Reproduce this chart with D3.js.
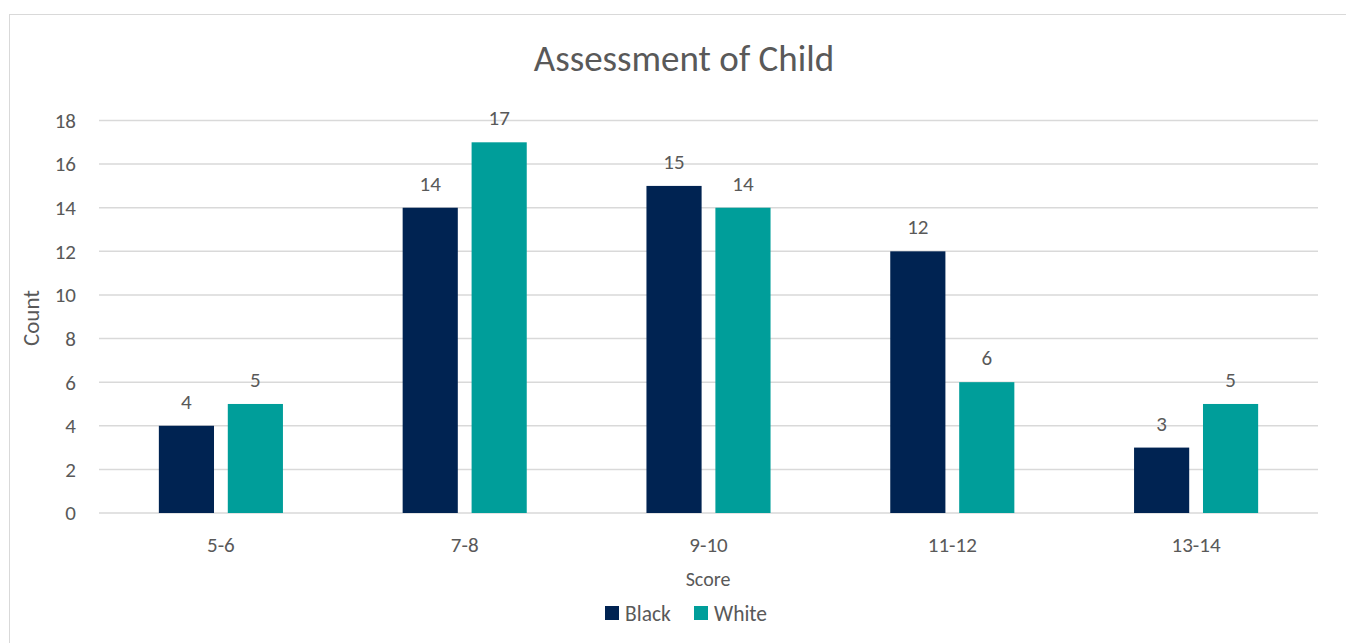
<!DOCTYPE html>
<html>
<head>
<meta charset="utf-8">
<script src="https://cdn.jsdelivr.net/npm/d3@7"></script>
<style>
  body { margin: 0; background: #fff; }
  svg text { font-family: Carlito, Lato, "Open Sans", sans-serif; fill: #595959; }
</style>
</head>
<body>
<svg id="drawing_region"></svg>
<script>
const categories = ['5-6', '7-8', '9-10', '11-12', '13-14'];
const seriesNames = ['Black', 'White'];
const blackCounts = [4, 14, 15, 12, 3];
const whiteCounts = [5, 17, 14, 6, 5];
const yTicks = [0, 2, 4, 6, 8, 10, 12, 14, 16, 18];

const colors = { Black: '#002352', White: '#009E9A' };

const width = 1346, height = 643;
const margin = { top: 120, right: 28, bottom: 130, left: 99 };

const svg = d3.select('#drawing_region')
    .attr('width', width)
    .attr('height', height);

// outer chart border
svg.append('rect')
    .attr('x', 9.5).attr('y', 14.5)
    .attr('width', width - 9).attr('height', height - 14)
    .attr('fill', 'none')
    .attr('stroke', '#d9d9d9')
    .attr('stroke-width', 1);

const data = categories.map((c, i) => ({ cat: c, Black: blackCounts[i], White: whiteCounts[i] }));

const x0 = d3.scaleBand()
    .domain(categories)
    .range([margin.left, width - margin.right])
    .paddingInner(0.491)
    .paddingOuter(0.2455);

const x1 = d3.scaleBand()
    .domain(seriesNames)
    .range([0, x0.bandwidth()])
    .paddingInner(0.2);

const y = d3.scaleLinear()
    .domain([0, 18])
    .range([513, 120.5]);

// gridlines
svg.append('g')
    .selectAll('line')
    .data(yTicks)
    .enter()
    .append('line')
    .attr('x1', margin.left)
    .attr('x2', width - margin.right)
    .attr('y1', d => y(d))
    .attr('y2', d => y(d))
    .attr('stroke', '#d9d9d9')
    .attr('stroke-width', 1.5);

// y tick labels
svg.append('g')
    .selectAll('text')
    .data(yTicks)
    .enter()
    .append('text')
    .attr('x', 76)
    .attr('y', d => y(d))
    .attr('dy', '0.35em')
    .attr('text-anchor', 'end')
    .attr('font-size', '21px')
    .text(d => d);

// bars
const groups = svg.append('g')
    .selectAll('g')
    .data(data)
    .enter()
    .append('g')
    .attr('transform', d => `translate(${x0(d.cat)},0)`);

groups.selectAll('rect')
    .data(d => seriesNames.map(s => ({ key: s, value: d[s] })))
    .enter()
    .append('rect')
    .attr('x', d => x1(d.key))
    .attr('y', d => y(d.value))
    .attr('width', x1.bandwidth())
    .attr('height', d => y(0) - y(d.value))
    .attr('fill', d => colors[d.key]);

// data labels
groups.selectAll('text.lbl')
    .data(d => seriesNames.map(s => ({ key: s, value: d[s] })))
    .enter()
    .append('text')
    .attr('class', 'lbl')
    .attr('x', d => x1(d.key) + x1.bandwidth() / 2)
    .attr('y', d => y(d.value) - 17)
    .attr('text-anchor', 'middle')
    .attr('font-size', '21px')
    .text(d => d.value);

// x tick labels
svg.append('g')
    .selectAll('text')
    .data(categories)
    .enter()
    .append('text')
    .attr('x', d => x0(d) + x0.bandwidth() / 2)
    .attr('y', 545)
    .attr('dy', '0.35em')
    .attr('text-anchor', 'middle')
    .attr('font-size', '21px')
    .text(d => d);

// title
svg.append('text')
    .attr('x', 684)
    .attr('y', 58)
    .attr('dy', '0.35em')
    .attr('text-anchor', 'middle')
    .attr('font-size', '37px')
    .text('Assessment of Child');

// axis titles
svg.append('text')
    .attr('x', 708)
    .attr('y', 579)
    .attr('dy', '0.35em')
    .attr('text-anchor', 'middle')
    .attr('font-size', '20px')
    .text('Score');

svg.append('text')
    .attr('transform', 'translate(31,318) rotate(-90)')
    .attr('dy', '0.35em')
    .attr('text-anchor', 'middle')
    .attr('font-size', '23px')
    .text('Count');

// legend
const legendX = [605, 694];
const legend = svg.append('g')
    .selectAll('g')
    .data(seriesNames)
    .enter()
    .append('g')
    .attr('transform', (d, i) => `translate(${legendX[i]},606)`);

legend.append('rect')
    .attr('width', 14)
    .attr('height', 14)
    .attr('fill', d => colors[d]);

legend.append('text')
    .attr('x', 20)
    .attr('y', 7)
    .attr('dy', '0.35em')
    .attr('font-size', '21.5px')
    .text(d => d);
</script>
</body>
</html>
